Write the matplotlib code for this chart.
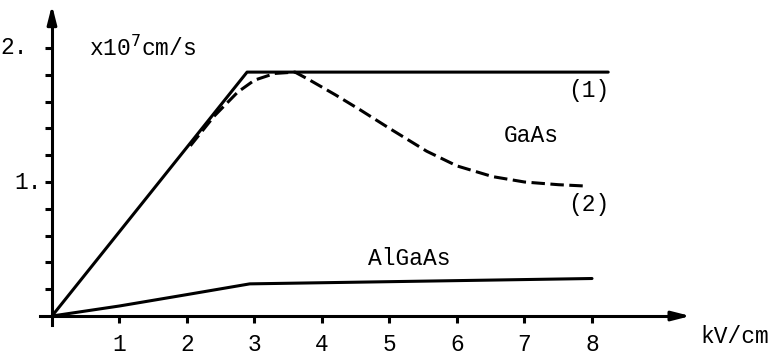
import numpy as np
import matplotlib.pyplot as plt

plt.rcParams['font.family'] = ['Liberation Mono', 'DejaVu Sans Mono']

# field (kV/cm) and velocity (x1e7 cm/s)
gaas1_x = [0.0, 2.89, 8.24]
gaas1_y = [0.0, 1.82, 1.82]

gaas2_x = [2.05, 2.4, 2.75, 3.0, 3.3, 3.6, 3.82, 4.2, 4.56, 5.0, 5.55, 6.0, 6.53, 7.0, 7.5, 7.9]
gaas2_y = [1.27, 1.49, 1.67, 1.76, 1.81, 1.82, 1.76, 1.65, 1.54, 1.40, 1.23, 1.12, 1.04, 1.0, 0.98, 0.97]

algaas_x = [0.0, 1.0, 2.0, 2.93, 8.0]
algaas_y = [0.0, 0.075, 0.16, 0.24, 0.28]

x_ticks = [1, 2, 3, 4, 5, 6, 7, 8]
y_ticks = [0.2, 0.4, 0.6, 0.8, 1.0, 1.2, 1.4, 1.6, 1.8, 2.0]

fig = plt.figure(figsize=(7.75, 3.62), dpi=100)
ax = fig.add_axes([0, 0, 1, 1])
ax.set_xlim(-0.770, 10.711)
ax.set_ylim(-0.343, 2.358)

lw = 2.2
fs = 16.5
ax.plot(gaas1_x, gaas1_y, color='black', lw=lw, solid_capstyle='round')
ax.plot(gaas2_x, gaas2_y, color='black', lw=lw, linestyle=(0, (4.4, 1.8)))
ax.plot(algaas_x, algaas_y, color='black', lw=lw, solid_capstyle='round')

# axes with arrow heads
for s in ['top', 'right']:
    ax.spines[s].set_visible(False)
ax.spines['left'].set_position(('data', 0))
ax.spines['bottom'].set_position(('data', 0))
ax.spines['left'].set_bounds(-0.07, 2.25)
ax.spines['bottom'].set_bounds(-0.18, 9.3)
ax.spines['left'].set_linewidth(lw)
ax.spines['bottom'].set_linewidth(lw)
ax.annotate('', xy=(0, 2.34), xytext=(0, 2.2),
            arrowprops=dict(arrowstyle='-|>,head_length=1.1,head_width=0.28',
                            color='black', lw=lw), annotation_clip=False)
ax.annotate('', xy=(9.5, 0), xytext=(9.2, 0),
            arrowprops=dict(arrowstyle='-|>,head_length=1.1,head_width=0.28',
                            color='black', lw=lw), annotation_clip=False)

ax.set_xticks(x_ticks)
ax.set_xticklabels([str(t) for t in x_ticks])
ax.set_yticks(y_ticks)
ax.set_yticklabels([])
ax.tick_params(axis='both', direction='out', length=5, width=lw, labelsize=fs)
ax.tick_params(axis='x', pad=7)

ax.text(-0.35, 2.0, '2.', fontsize=fs, va='center', ha='right')
ax.text(-0.15, 1.0, '1.', fontsize=fs, va='center', ha='right')
ax.text(0.55, 2.0, r'x10$^7$cm/s', fontsize=fs, va='center', ha='left')
ax.text(9.6, -0.15, 'kV/cm', fontsize=fs, va='center', ha='left')
ax.text(7.95, 1.68, '(1)', fontsize=fs, va='center', ha='center')
ax.text(7.95, 0.83, '(2)', fontsize=fs, va='center', ha='center')
ax.text(7.1, 1.35, 'GaAs', fontsize=fs, va='center', ha='center')
ax.text(5.3, 0.43, 'AlGaAs', fontsize=fs, va='center', ha='center')

fig.savefig('out.png', dpi=100)
